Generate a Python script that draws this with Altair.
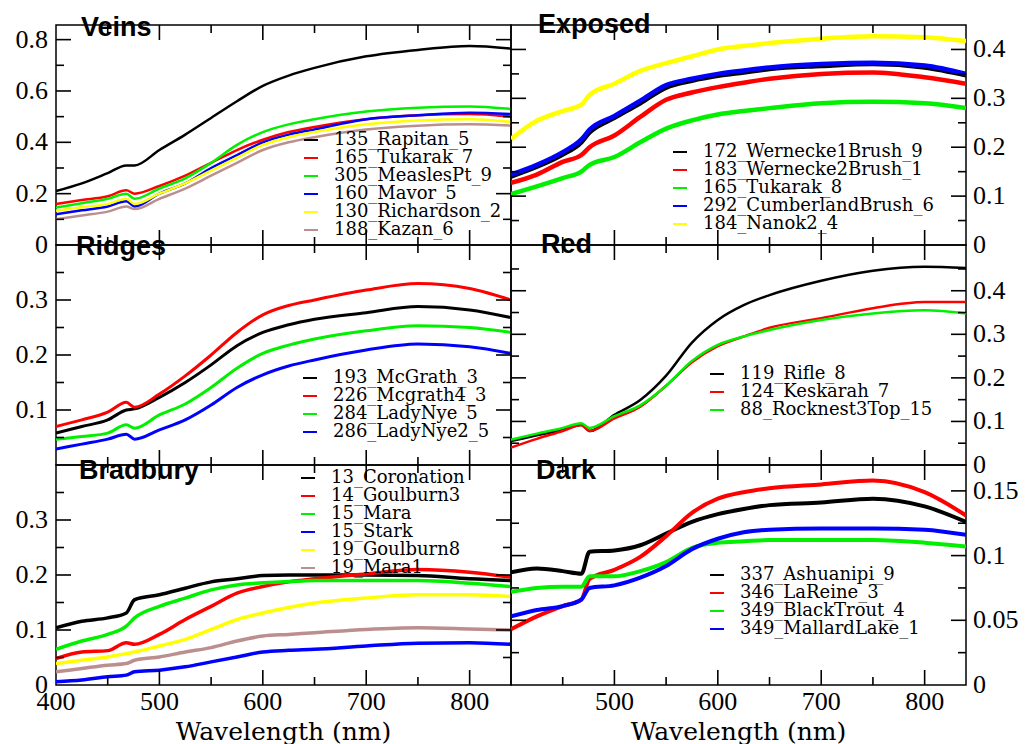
import altair as alt
import pandas as pd

WL = [400, 425, 450, 468, 476, 500, 525, 550, 575, 600, 625, 650, 700, 750, 800, 840]

BLACK, RED, GREEN, BLUE, YELLOW, BROWN = "#000000", "#ff0000", "#00f000", "#0000ff", "#ffff00", "#bc8f8f"

# --- Veins
veins_names = ["135_Rapitan_5", "165_Tukarak_7", "305_MeaslesPt_9", "160_Mavor_5",
               "130_Richardson_2", "188_Kazan_6"]
veins_black = [0.21, 0.24, 0.28, 0.31, 0.31, 0.37, 0.43, 0.495, 0.56, 0.62, 0.66, 0.69, 0.735, 0.76, 0.775, 0.765]
veins_red = [0.16, 0.175, 0.19, 0.213, 0.20, 0.23, 0.27, 0.32, 0.37, 0.41, 0.44, 0.46, 0.49, 0.505, 0.51, 0.50]
veins_green = [0.146, 0.163, 0.18, 0.20, 0.18, 0.22, 0.26, 0.32, 0.39, 0.44, 0.47, 0.49, 0.52, 0.535, 0.54, 0.53]
veins_blue = [0.12, 0.135, 0.15, 0.17, 0.15, 0.20, 0.24, 0.30, 0.35, 0.40, 0.43, 0.45, 0.49, 0.505, 0.515, 0.51]
veins_yellow = [0.133, 0.147, 0.16, 0.18, 0.16, 0.20, 0.24, 0.29, 0.34, 0.39, 0.42, 0.44, 0.47, 0.485, 0.49, 0.48]
veins_brown = [0.10, 0.115, 0.13, 0.15, 0.14, 0.18, 0.22, 0.27, 0.32, 0.37, 0.40, 0.42, 0.45, 0.465, 0.47, 0.465]

# --- Exposed
exposed_names = ["172_Wernecke1Brush_9", "183_Wernecke2Brush_1", "165_Tukarak_8",
                 "292_CumberlandBrush_6", "184_Nanok2_4"]
exposed_black = [0.14, 0.16, 0.185, 0.21, 0.23, 0.26, 0.29, 0.322, 0.336, 0.346, 0.353, 0.36, 0.366, 0.37, 0.363, 0.347]
exposed_red = [0.127, 0.144, 0.17, 0.184, 0.20, 0.224, 0.262, 0.297, 0.312, 0.323, 0.332, 0.34, 0.35, 0.353, 0.343, 0.33]
exposed_green = [0.104, 0.12, 0.137, 0.15, 0.164, 0.18, 0.21, 0.238, 0.255, 0.267, 0.274, 0.28, 0.29, 0.293, 0.29, 0.28]
exposed_blue = [0.144, 0.164, 0.19, 0.216, 0.236, 0.264, 0.295, 0.327, 0.34, 0.35, 0.357, 0.363, 0.37, 0.373, 0.367, 0.35]
exposed_yellow = [0.217, 0.254, 0.274, 0.287, 0.307, 0.33, 0.356, 0.372, 0.386, 0.40, 0.407, 0.413, 0.422, 0.427, 0.425, 0.417]

# --- Ridges
ridges_names = ["193_McGrath_3", "226_Mcgrath4_3", "284_LadyNye_5", "286_LadyNye2_5"]
ridges_black = [0.058, 0.07, 0.082, 0.10, 0.102, 0.123, 0.15, 0.182, 0.217, 0.241, 0.255, 0.265, 0.277, 0.288, 0.282, 0.268]
ridges_red = [0.07, 0.082, 0.096, 0.114, 0.105, 0.129, 0.162, 0.20, 0.241, 0.273, 0.29, 0.30, 0.318, 0.33, 0.321, 0.30]
ridges_green = [0.047, 0.052, 0.058, 0.073, 0.067, 0.091, 0.111, 0.141, 0.176, 0.203, 0.218, 0.229, 0.244, 0.253, 0.25, 0.241]
ridges_blue = [0.029, 0.038, 0.047, 0.056, 0.047, 0.064, 0.082, 0.109, 0.141, 0.164, 0.18, 0.191, 0.209, 0.22, 0.215, 0.203]

# --- Red
red_names = ["119_Rifle_8", "124_Keskarah_7", "88_Rocknest3Top_15"]
red_black = [0.055, 0.068, 0.081, 0.092, 0.078, 0.115, 0.149, 0.205, 0.281, 0.333, 0.367, 0.39, 0.423, 0.446, 0.455, 0.452]
red_red = [0.04, 0.06, 0.078, 0.092, 0.078, 0.107, 0.134, 0.182, 0.236, 0.273, 0.295, 0.315, 0.337, 0.36, 0.374, 0.374]
red_green = [0.058, 0.072, 0.085, 0.096, 0.085, 0.112, 0.137, 0.182, 0.239, 0.276, 0.295, 0.31, 0.333, 0.348, 0.355, 0.348]

# --- Bradbury
brad_names = ["13_Coronation", "14_Goulburn3", "15_Mara", "15_Stark", "19_Goulburn8", "19_Mara1"]
brad_black = [0.104, 0.116, 0.122, 0.131, 0.155, 0.164, 0.176, 0.1875, 0.193, 0.199, 0.20, 0.20, 0.20, 0.199, 0.193, 0.19]
brad_red = [0.048, 0.06, 0.0625, 0.077, 0.074, 0.092, 0.119, 0.143, 0.167, 0.179, 0.1875, 0.193, 0.202, 0.21, 0.205, 0.196]
brad_green = [0.065, 0.08, 0.092, 0.107, 0.122, 0.143, 0.158, 0.173, 0.182, 0.186, 0.188, 0.19, 0.19, 0.19, 0.185, 0.179]
brad_blue = [0.006, 0.009, 0.015, 0.018, 0.024, 0.027, 0.033, 0.042, 0.051, 0.06, 0.063, 0.065, 0.071, 0.076, 0.077, 0.074]
brad_yellow = [0.039, 0.045, 0.051, 0.057, 0.06, 0.071, 0.083, 0.101, 0.119, 0.131, 0.141, 0.149, 0.158, 0.164, 0.164, 0.161]
brad_brown = [0.024, 0.03, 0.036, 0.039, 0.045, 0.051, 0.06, 0.068, 0.08, 0.089, 0.092, 0.095, 0.101, 0.104, 0.102, 0.10]

# --- Dark
dark_names = ["337_Ashuanipi_9", "346_LaReine_3", "349_BlackTrout_4", "349_MallardLake_1"]
dark_black = [0.087, 0.09, 0.088, 0.086, 0.103, 0.104, 0.108, 0.117, 0.126, 0.132, 0.136, 0.139, 0.141, 0.144, 0.138, 0.126]
dark_red = [0.043, 0.053, 0.061, 0.066, 0.082, 0.089, 0.099, 0.115, 0.133, 0.144, 0.149, 0.152, 0.155, 0.158, 0.149, 0.131]
dark_green = [0.072, 0.075, 0.076, 0.076, 0.084, 0.084, 0.088, 0.095, 0.106, 0.11, 0.111, 0.112, 0.112, 0.112, 0.11, 0.107]
dark_blue = [0.053, 0.058, 0.061, 0.066, 0.075, 0.077, 0.083, 0.092, 0.105, 0.113, 0.118, 0.12, 0.121, 0.121, 0.12, 0.116]

# tick positions
X_MAJOR = [500, 600, 700, 800]
X_MINOR = [450, 550, 650, 750]
X0, X1 = 400, 840
X_TITLE = "Wavelength (nm)"

W, H = 455, 220
MAJ, MIN = 15, 8
ROW = 18  # legend row pitch
SERIF, WIDE_SERIF, SANS = "Liberation Serif", "DejaVu Serif", "Liberation Sans"

# tick glyphs pointing into the frame from each edge
TICK_SHAPE = {"top": "M0,0V1", "bottom": "M0,0V-1", "left": "M0,0H1", "right": "M0,0H-1"}


def tick_layer(vals, ch, side, size, xs, ys, ydom):
    """Inward ticks as open symbols anchored on the frame edge (positions via the scales)."""
    if ch == "x":
        edge = ydom[1] if side == "top" else ydom[0]
        df = pd.DataFrame({"t": vals, "e": [edge] * len(vals)})
        enc = dict(x=alt.X("t:Q", scale=xs, axis=None), y=alt.Y("e:Q", scale=ys, axis=None))
    else:
        edge = X0 if side == "left" else X1
        df = pd.DataFrame({"t": vals, "e": [edge] * len(vals)})
        enc = dict(y=alt.Y("t:Q", scale=ys, axis=None), x=alt.X("e:Q", scale=xs, axis=None))
    return alt.Chart(df).mark_point(
        shape=TICK_SHAPE[side], size=4 * size * size, filled=False, color="black",
        strokeWidth=1.6, opacity=1,
    ).encode(**enc)


def ylabel_layer(vals, side, scale):
    left = side == "left"
    return alt.Chart(pd.DataFrame({"t": vals})).mark_text(
        align="right" if left else "left", baseline="middle", dx=-8 if left else 7,
        font=SERIF, fontSize=26, color="black",
    ).encode(
        y=alt.Y("t:Q", scale=scale, axis=None),
        x=alt.value(0 if left else W),
        text=alt.Text("t:Q", format="~g"),
    )


def xlabel_layers(vals, scale):
    labels = alt.Chart(pd.DataFrame({"t": vals})).mark_text(
        align="center", baseline="top", dy=4, font=SERIF, fontSize=26, color="black",
    ).encode(x=alt.X("t:Q", scale=scale, axis=None), y=alt.value(H), text=alt.Text("t:Q", format="d"))
    title = alt.Chart(pd.DataFrame({"label": [X_TITLE]})).mark_text(
        align="center", baseline="top", font=WIDE_SERIF, fontSize=25, color="black",
    ).encode(x=alt.value(W / 2), y=alt.value(H + 35), text="label:N")
    return [labels, title]


def panel(name, tdx, tofs, names, colors, series, ydom, ylab, ymaj, ymin, yside,
          xlab, bottom, leg, sw):
    rows = [{"nm": w, "v": v, "s": n}
            for n, vals in zip(names, series) for w, v in zip(WL, vals)]
    df = pd.DataFrame(rows)
    xs = alt.Scale(domain=[X0, X1], nice=False, zero=False)
    ys = alt.Scale(domain=ydom, nice=False, zero=False)

    legend_top = max(2, leg[1] - len(names) * ROW / 2)
    lines = alt.Chart(df).mark_line(strokeWidth=sw, interpolate="monotone", clip=True).encode(
        x=alt.X("nm:Q", scale=xs, axis=None),
        y=alt.Y("v:Q", scale=ys, axis=None),
        color=alt.Color("s:N", scale=alt.Scale(domain=names, range=colors),
                        legend=alt.Legend(orient="none", legendX=leg[0], legendY=legend_top,
                                          title=None, symbolType="stroke", symbolSize=196,
                                          symbolStrokeWidth=2, labelFont=WIDE_SERIF,
                                          labelFontSize=18, labelColor="black", labelOffset=14,
                                          rowPadding=-6, padding=0, labelLimit=400)),
    )
    layers = [lines]
    for side in ("top", "bottom"):
        layers.append(tick_layer(X_MAJOR, "x", side, MAJ, xs, ys, ydom))
        layers.append(tick_layer(X_MINOR, "x", side, MIN, xs, ys, ydom))
    for side in ("left", "right"):
        layers.append(tick_layer(ymaj, "y", side, MAJ, xs, ys, ydom))
        layers.append(tick_layer(ymin, "y", side, MIN, xs, ys, ydom))
    layers.append(ylabel_layer(ylab, yside, ys))
    if bottom:
        layers += xlabel_layers(xlab, xs)

    return alt.layer(*layers).properties(
        width=W, height=H,
        title=alt.TitleParams(text=name, orient="top", anchor="start", frame="group",
                              offset=-tofs, dx=tdx, baseline="alphabetic", font=SANS,
                              fontSize=27, fontWeight="bold", color="black"),
    )


six = [BLACK, RED, GREEN, BLUE, YELLOW, BROWN]
four = [BLACK, RED, GREEN, BLUE]
left_x = [400, 500, 600, 700, 800]
right_x = [500, 600, 700, 800]

# leg = (x of legend symbols, vertical middle of the legend block), in panel pixels
veins = panel("Veins", 25, 41, veins_names, six,
              [veins_black, veins_red, veins_green, veins_blue, veins_yellow, veins_brown],
              [0, 0.857], [0, 0.2, 0.4, 0.6, 0.8], [0.2, 0.4, 0.6, 0.8], [0.1, 0.3, 0.5, 0.7],
              "left", left_x, False, (246, 160), 2.5)
exposed = panel("Exposed", 27, 38, exposed_names, [BLACK, RED, GREEN, BLUE, YELLOW],
                [exposed_black, exposed_red, exposed_green, exposed_blue, exposed_yellow],
                [0, 0.45], [0, 0.1, 0.2, 0.3, 0.4], [0.1, 0.2, 0.3, 0.4], [0.05, 0.15, 0.25, 0.35],
                "right", right_x, False, (160, 163), 4.5)
ridges = panel("Ridges", 20, 40, ridges_names, four,
               [ridges_black, ridges_red, ridges_green, ridges_blue],
               [0, 0.4], [0.1, 0.2, 0.3], [0.1, 0.2, 0.3], [0.05, 0.15, 0.25, 0.35],
               "left", left_x, False, (245, 160), 3)
red = panel("Red", 30, 38, red_names, [BLACK, RED, GREEN],
            [red_black, red_red, red_green],
            [0, 0.505], [0, 0.1, 0.2, 0.3, 0.4], [0.1, 0.2, 0.3, 0.4], [0.05, 0.15, 0.25, 0.35, 0.45],
            "right", right_x, False, (197, 147), 2.5)
brad = panel("Bradbury", 23, 44, brad_names, six,
             [brad_black, brad_red, brad_green, brad_blue, brad_yellow, brad_brown],
             [0, 0.4], [0, 0.1, 0.2, 0.3], [0.1, 0.2, 0.3], [0.05, 0.15, 0.25, 0.35],
             "left", left_x, True, (243, 58), 3.5)
dark = panel("Dark", 25, 44, dark_names, four,
             [dark_black, dark_red, dark_green, dark_blue],
             [0, 0.17], [0, 0.05, 0.1, 0.15], [0.05, 0.1, 0.15], [0.025, 0.075, 0.125],
             "right", right_x, True, (197, 137), 4)

chart = alt.concat(veins, exposed, ridges, red, brad, dark, columns=2, spacing=0,
                   bounds="flush").resolve_scale(
    color="independent", x="independent", y="independent"
).properties(
    padding={"left": 6, "top": 2, "right": 0, "bottom": 0}
).configure_view(
    stroke="black", strokeWidth=1.5
)

chart.save("out.html", embed_options={"renderer": "svg", "actions": False})
